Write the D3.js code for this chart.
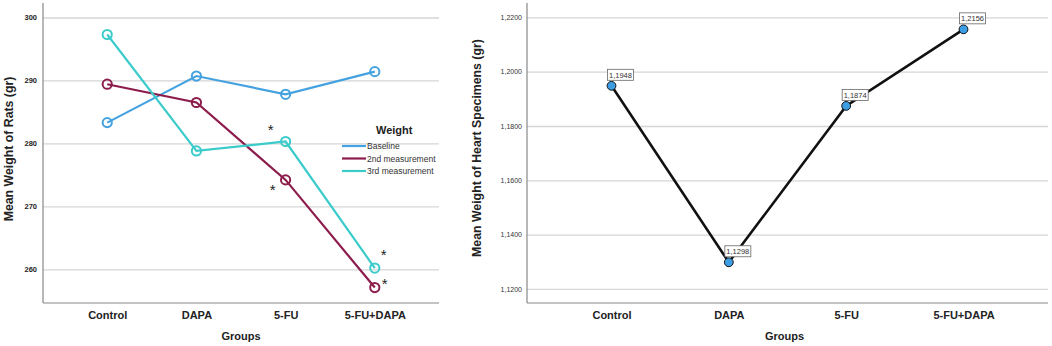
<!DOCTYPE html>
<html>
<head>
<meta charset="utf-8">
<script src="https://cdn.jsdelivr.net/npm/d3@7"></script>
<style>
  body { margin: 0; background: #fff; }
  svg { display: block; font-family: "Liberation Sans", Arial, sans-serif; }
</style>
</head>
<body>
<script>
// data
var groups = ["Control", "DAPA", "5-FU", "5-FU+DAPA"];
var baseline = [283.3, 290.7, 287.8, 291.4];
var second = [289.4, 286.5, 274.2, 257.1];
var third = [297.3, 278.8, 280.3, 260.2];
var seriesNames = ["Baseline", "2nd measurement", "3rd measurement"];
var seriesColors = ["#45a2e0", "#8c1c4c", "#3ccbcb"];
var leftTicks = [260, 270, 280, 290, 300];

var heart = [1.1948, 1.1298, 1.1874, 1.2156];
var rightTicks = [1.12, 1.14, 1.16, 1.18, 1.20, 1.22];

// asterisks: [group index, series index, dx, dy]
var stars = [[2, 2, -15, -7], [2, 1, -13, 15.5], [3, 2, 9, -8.5], [3, 1, 10, 1]];

var width = 1052, height = 346;
var svg = d3.select("body").append("svg")
    .attr("width", width)
    .attr("height", height);

var commaFmt = function (d) { return d3.format(".4f")(d).replace(".", ","); };

// ---------- left chart ----------
var L = {left: 43, right: 439, top: 3, bottom: 303};
var xL = d3.scalePoint().domain(groups).range([L.left, L.right]).padding(0.72);
var yL = d3.scaleLinear().domain([254.65, 302.3]).range([L.bottom, L.top]);

var gL = svg.append("g");

gL.append("g")
    .attr("transform", "translate(" + L.left + ",0)")
    .call(d3.axisLeft(yL).tickValues(leftTicks).tickSize(-(L.right - L.left)).tickPadding(6))
    .call(function (g) {
        g.select(".domain").remove();
        g.selectAll(".tick line").attr("stroke", "#d6d6d6").attr("stroke-width", 1.3);
        g.selectAll(".tick text").attr("font-size", 7.5).attr("font-weight", "bold").attr("fill", "#222");
    });

gL.append("line").attr("x1", L.left).attr("x2", L.left).attr("y1", L.top).attr("y2", L.bottom)
    .attr("stroke", "#888").attr("stroke-width", 1.2);

gL.append("g")
    .attr("transform", "translate(0," + L.bottom + ")")
    .call(d3.axisBottom(xL).tickSize(0).tickPadding(8))
    .call(function (g) {
        g.select(".domain").attr("stroke", "#888").attr("stroke-width", 1.2)
            .attr("d", "M" + L.left + ",0H" + L.right);
        g.selectAll(".tick text").attr("font-size", 11).attr("font-weight", "bold").attr("fill", "#222");
    });

gL.append("text")
    .attr("x", (L.left + L.right) / 2)
    .attr("y", 340)
    .attr("text-anchor", "middle")
    .attr("font-size", 11).attr("font-weight", "bold").attr("fill", "#222")
    .text("Groups");

gL.append("text")
    .attr("transform", "translate(12.5,149) rotate(-90)")
    .attr("text-anchor", "middle")
    .attr("font-size", 12.3).attr("font-weight", "bold").attr("fill", "#222")
    .text("Mean Weight of Rats (gr)");

var allSeries = [baseline, second, third];
var lineL = d3.line().x(function (d, i) { return xL(groups[i]); }).y(function (d) { return yL(d); });

allSeries.forEach(function (vals, s) {
    gL.append("path")
        .datum(vals)
        .attr("d", lineL)
        .attr("fill", "none")
        .attr("stroke", seriesColors[s])
        .attr("stroke-width", 2.2);
});
allSeries.forEach(function (vals, s) {
    gL.selectAll(".pt" + s)
        .data(vals)
        .enter()
        .append("circle")
        .attr("cx", function (d, i) { return xL(groups[i]); })
        .attr("cy", function (d) { return yL(d); })
        .attr("r", 4.6)
        .attr("fill", "#fff")
        .attr("fill-opacity", 0)
        .attr("stroke", seriesColors[s])
        .attr("stroke-width", 2);
});

stars.forEach(function (st) {
    var v = allSeries[st[1]][st[0]];
    gL.append("text")
        .attr("x", xL(groups[st[0]]) + st[2])
        .attr("y", yL(v) + st[3])
        .attr("text-anchor", "middle")
        .attr("font-size", 15).attr("fill", "#222")
        .text("*");
});

// legend
var leg = gL.append("g");
leg.append("text").attr("x", 376).attr("y", 134)
    .attr("font-size", 11).attr("font-weight", "bold").attr("fill", "#222").text("Weight");
seriesNames.forEach(function (name, s) {
    var yy = 146 + s * 12.5;
    leg.append("line").attr("x1", 342).attr("x2", 366).attr("y1", yy).attr("y2", yy)
        .attr("stroke", seriesColors[s]).attr("stroke-width", 2.2);
    leg.append("text").attr("x", 367).attr("y", yy + 3)
        .attr("font-size", 8.5).attr("fill", "#333").text(name);
});

// ---------- right chart ----------
var R = {left: 527, right: 1048, top: 3, bottom: 303};
var xR = d3.scalePoint().domain(groups).range([R.left, R.right]).padding(0.72);
var yR = d3.scaleLinear().domain([1.1148, 1.2253]).range([R.bottom, R.top]);

var gR = svg.append("g");

gR.append("g")
    .attr("transform", "translate(" + R.left + ",0)")
    .call(d3.axisLeft(yR).tickValues(rightTicks).tickFormat(commaFmt).tickSize(-(R.right - R.left)).tickPadding(5))
    .call(function (g) {
        g.select(".domain").remove();
        g.selectAll(".tick line").attr("stroke", "#d6d6d6").attr("stroke-width", 1.3);
        g.selectAll(".tick text").attr("font-size", 7).attr("fill", "#333");
    });

gR.append("line").attr("x1", R.left).attr("x2", R.left).attr("y1", R.top).attr("y2", R.bottom)
    .attr("stroke", "#888").attr("stroke-width", 1.2);

gR.append("g")
    .attr("transform", "translate(0," + R.bottom + ")")
    .call(d3.axisBottom(xR).tickSize(0).tickPadding(8))
    .call(function (g) {
        g.select(".domain").attr("stroke", "#888").attr("stroke-width", 1.2)
            .attr("d", "M" + R.left + ",0H" + R.right);
        g.selectAll(".tick text").attr("font-size", 11).attr("font-weight", "bold").attr("fill", "#222");
    });

gR.append("text")
    .attr("x", (R.left + R.right) / 2 - 3)
    .attr("y", 340)
    .attr("text-anchor", "middle")
    .attr("font-size", 11).attr("font-weight", "bold").attr("fill", "#222")
    .text("Groups");

gR.append("text")
    .attr("transform", "translate(480.5,148) rotate(-90)")
    .attr("text-anchor", "middle")
    .attr("font-size", 12.3).attr("font-weight", "bold").attr("fill", "#222")
    .text("Mean Weight of Heart Specimens (gr)");

var lineR = d3.line().x(function (d, i) { return xR(groups[i]); }).y(function (d) { return yR(d); });
gR.append("path")
    .datum(heart)
    .attr("d", lineR)
    .attr("fill", "none")
    .attr("stroke", "#111")
    .attr("stroke-width", 2.6);

gR.selectAll(".hp")
    .data(heart)
    .enter()
    .append("circle")
    .attr("cx", function (d, i) { return xR(groups[i]); })
    .attr("cy", function (d) { return yR(d); })
    .attr("r", 4.4)
    .attr("fill", "#3d9de2")
    .attr("stroke", "#111")
    .attr("stroke-width", 1);

var labels = gR.selectAll(".lab")
    .data(heart)
    .enter()
    .append("g")
    .attr("transform", function (d, i) {
        return "translate(" + (xR(groups[i]) - 4) + "," + (yR(d) - 16.5) + ")";
    });
labels.append("rect")
    .attr("width", 26).attr("height", 11)
    .attr("fill", "#fff").attr("stroke", "#666").attr("stroke-width", 0.8);
labels.append("text")
    .attr("x", 13).attr("y", 8.5)
    .attr("text-anchor", "middle")
    .attr("font-size", 7.5).attr("fill", "#333")
    .text(commaFmt);
</script>
</body>
</html>
